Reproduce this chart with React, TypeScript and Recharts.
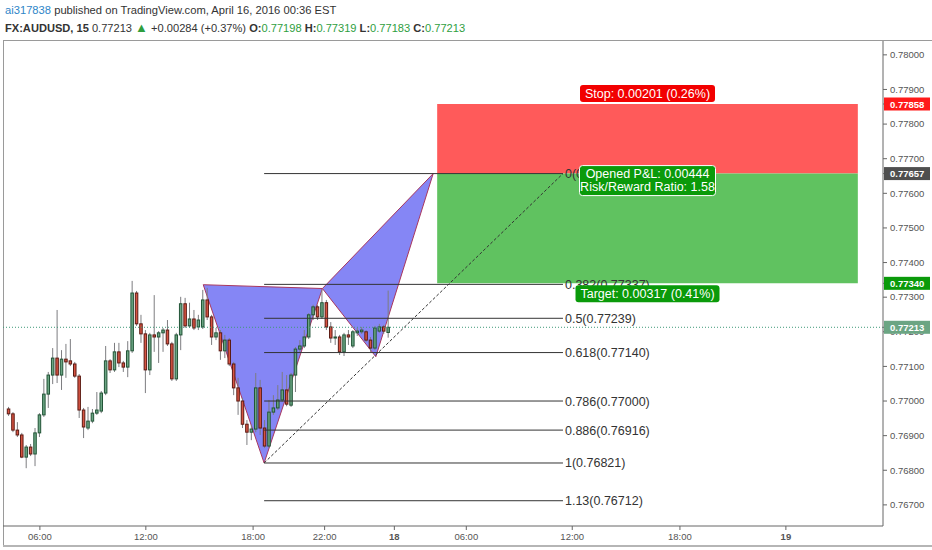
import {
  ComposedChart, Bar, XAxis, YAxis, ReferenceLine, ReferenceArea, ReferenceDot,
} from 'recharts'

// 15 min AUDUSD candles (bar index 0..86)
const opens = [
  0.76977, 0.76963, 0.76916, 0.76902, 0.76838, 0.76867, 0.76847, 0.76908, 0.76960, 0.77020,
  0.77075, 0.77124, 0.77075, 0.77121, 0.77116, 0.77107, 0.77072, 0.76974, 0.76922, 0.76942,
  0.76965, 0.76971, 0.77023, 0.77116, 0.77090, 0.77142, 0.77110, 0.77098, 0.77145, 0.77312,
  0.77223, 0.77194, 0.77090, 0.77191, 0.77185, 0.77197, 0.77205, 0.77165, 0.77064, 0.77191,
  0.77281, 0.77217, 0.77237, 0.77214, 0.77214, 0.77292, 0.77243, 0.77185, 0.77197, 0.77145,
  0.77176, 0.77107, 0.77038, 0.77000, 0.76933, 0.76910, 0.76919, 0.77038, 0.76922, 0.76870,
  0.76968, 0.76980, 0.77003, 0.77032, 0.76988, 0.77075, 0.77150, 0.77159, 0.77185, 0.77249,
  0.77272, 0.77243, 0.77284, 0.77214, 0.77182, 0.77185, 0.77142, 0.77191, 0.77159, 0.77197,
  0.77200, 0.77200, 0.77176, 0.77153, 0.77202, 0.77214, 0.77198,
]
const highs = [
  0.76983, 0.76968, 0.76939, 0.76908, 0.76873, 0.76876, 0.76922, 0.76965, 0.77064, 0.77084,
  0.77153, 0.77263, 0.77147, 0.77165, 0.77179, 0.77113, 0.77078, 0.76980, 0.76983, 0.76977,
  0.77026, 0.77029, 0.77159, 0.77121, 0.77168, 0.77168, 0.77116, 0.77173, 0.77347, 0.77318,
  0.77249, 0.77205, 0.77197, 0.77306, 0.77202, 0.77211, 0.77234, 0.77171, 0.77197, 0.77301,
  0.77298, 0.77284, 0.77263, 0.77249, 0.77321, 0.77327, 0.77249, 0.77211, 0.77205, 0.77191,
  0.77182, 0.77113, 0.77067, 0.77009, 0.76945, 0.76931, 0.77081, 0.77061, 0.76945, 0.77003,
  0.77017, 0.77046, 0.77084, 0.77075, 0.77081, 0.77156, 0.77176, 0.77205, 0.77254, 0.77278,
  0.77278, 0.77321, 0.77292, 0.77228, 0.77205, 0.77191, 0.77197, 0.77205, 0.77205, 0.77211,
  0.77214, 0.77205, 0.77185, 0.77217, 0.77223, 0.77220, 0.77319,
]
const lows = [
  0.76957, 0.76910, 0.76896, 0.76835, 0.76806, 0.76841, 0.76812, 0.76896, 0.76954, 0.76980,
  0.77049, 0.77052, 0.77032, 0.77067, 0.77101, 0.77067, 0.76951, 0.76893, 0.76916, 0.76936,
  0.76960, 0.76965, 0.77017, 0.77081, 0.77084, 0.77098, 0.77084, 0.77069, 0.77139, 0.77217,
  0.77168, 0.77023, 0.77075, 0.77142, 0.77110, 0.77142, 0.77159, 0.77058, 0.77058, 0.77147,
  0.77211, 0.77211, 0.77205, 0.77205, 0.77208, 0.77234, 0.77162, 0.77176, 0.77119, 0.77124,
  0.77101, 0.77017, 0.76960, 0.76922, 0.76873, 0.76887, 0.76910, 0.76902, 0.76864, 0.76864,
  0.76960, 0.76974, 0.76997, 0.76985, 0.76983, 0.77026, 0.77142, 0.77153, 0.77179, 0.77234,
  0.77234, 0.77237, 0.77205, 0.77168, 0.77162, 0.77133, 0.77130, 0.77162, 0.77153, 0.77188,
  0.77194, 0.77171, 0.77142, 0.77147, 0.77197, 0.77194, 0.77183,
]
const closes = [
  0.76963, 0.76916, 0.76902, 0.76838, 0.76867, 0.76847, 0.76908, 0.76960, 0.77020, 0.77075,
  0.77124, 0.77075, 0.77121, 0.77113, 0.77107, 0.77072, 0.76974, 0.76925, 0.76942, 0.76965,
  0.76974, 0.77023, 0.77116, 0.77090, 0.77142, 0.77110, 0.77098, 0.77145, 0.77312, 0.77223,
  0.77194, 0.77090, 0.77191, 0.77185, 0.77197, 0.77205, 0.77165, 0.77064, 0.77191, 0.77281,
  0.77217, 0.77237, 0.77211, 0.77234, 0.77292, 0.77243, 0.77185, 0.77197, 0.77145, 0.77176,
  0.77107, 0.77038, 0.77000, 0.76933, 0.76910, 0.76919, 0.77038, 0.76922, 0.76870, 0.76968,
  0.76980, 0.77003, 0.77032, 0.76991, 0.77075, 0.77150, 0.77159, 0.77185, 0.77249, 0.77272,
  0.77243, 0.77284, 0.77214, 0.77182, 0.77185, 0.77142, 0.77191, 0.77185, 0.77200, 0.77202,
  0.77205, 0.77176, 0.77153, 0.77211, 0.77214, 0.77202, 0.77213,
]

// time axis (bar index -> label)
const timeTicks = [7, 31, 55.3, 71.5, 87.3, 103.6, 127.6, 152, 176]
const timeLabels = ['06:00', '12:00', '18:00', '22:00', '18', '06:00', '12:00', '18:00', '19']
const dayLabels = ['18', '19']
const xDomain = [-1.36, 198]

const priceTicks = [0.767, 0.768, 0.769, 0.77, 0.771, 0.772, 0.773, 0.774, 0.775, 0.776, 0.777, 0.778, 0.779, 0.78]
const yDomain = [0.76639, 0.7804]

// harmonic pattern points (bar index, price)
const ptX = { i: 44, p: 0.77336 }
const ptA = { i: 57.8, p: 0.76821 }
const ptB = { i: 71, p: 0.77325 }
const ptC = { i: 83.1, p: 0.77128 }
const ptD = { i: 96.1, p: 0.77657 }

// fib retracement
const fibRatios = ['0', '0.382', '0.5', '0.618', '0.786', '0.886', '1', '1.13']
const fibPrices = [0.77657, 0.77337, 0.77239, 0.7714, 0.77, 0.76916, 0.76821, 0.76712]
const fibStart = 57.8
const fibEnd = 125.5

// long position tool
const posStart = 97
const posEnd = 192.3
const entry = 0.77657
const stop = 0.77858
const target = 0.7734
const lastPrice = 0.77213

const priceTags = [
  { price: 0.77858, color: '#ff1a1a' },
  { price: 0.77657, color: '#4f4f4f' },
  { price: 0.7734, color: '#0a9a0a' },
  { price: 0.77213, color: '#6ba583' },
]

const candles = opens.map((o, i) => ({
  i, o, h: highs[i], l: lows[i], c: closes[i], range: [lows[i], highs[i]],
}))

// tag prices last, so their boxes are painted over the plain tick labels
const yTicks = [...priceTicks, ...priceTags.map((t) => t.price)]

const font = '"Liberation Sans", Arial, sans-serif'

function Candle(props: any) {
  const { x, y, width, height, payload } = props
  const { o, h, l, c } = payload
  const up = c >= o
  const span = h - l || 1e-9
  const yOf = (v: number) => y + ((h - v) / span) * height
  const cx = x + width / 2
  const top = yOf(Math.max(o, c))
  const bot = yOf(Math.min(o, c))
  return (
    <g>
      <line x1={cx} x2={cx} y1={y} y2={y + height} stroke="#7d7d80" strokeWidth={1} />
      <rect
        x={x + 0.5} y={top} width={width - 1} height={Math.max(bot - top, 1)}
        fill={up ? '#6ba583' : '#d75442'} stroke={up ? '#225437' : '#5b1a13'} strokeWidth={1}
      />
    </g>
  )
}

function triangle(key: string, pts: { i: number; p: number }[]) {
  const x1 = Math.min(...pts.map((q) => q.i))
  const x2 = Math.max(...pts.map((q) => q.i))
  const y1 = Math.min(...pts.map((q) => q.p))
  const y2 = Math.max(...pts.map((q) => q.p))
  return (
    <ReferenceArea
      key={key} x1={x1} x2={x2} y1={y1} y2={y2} ifOverflow="visible"
      shape={(r: any) => {
        const s = pts
          .map((q) => `${r.x + ((q.i - x1) / (x2 - x1)) * r.width},${r.y + ((y2 - q.p) / (y2 - y1)) * r.height}`)
          .join(' ')
        return <polygon points={s} fill="#7b7cf4" fillOpacity={0.92} stroke="#a8375f" strokeWidth={1} />
      }}
    />
  )
}

function TimeTick(props: any) {
  const { x, y, payload } = props
  const k = timeTicks.indexOf(payload.value)
  const label = timeLabels[k]
  return (
    <text x={x} y={y + 8} textAnchor="middle" fontSize={9.5} fill="#555"
      fontFamily={font} fontWeight={dayLabels.includes(label) ? 'bold' : 'normal'}>
      {label}
    </text>
  )
}

function PriceTick(props: any) {
  const { x, y, payload } = props
  const tag = priceTags.find((t) => t.price === payload.value)
  if (tag) {
    return (
      <g>
        <rect x={x - 5} y={y - 6.5} width={46} height={13} fill={tag.color} />
        <text x={x + 1} y={y + 3.5} fontSize={9.5} fontWeight="bold" fill="#fff" fontFamily={font}>
          {tag.price.toFixed(5)}
        </text>
      </g>
    )
  }
  return (
    <text x={x + 1} y={y + 3.3} fontSize={9.5} fill="#555" fontFamily={font}>
      {payload.value.toFixed(5)}
    </text>
  )
}

function boxLabel(lines: string[], fill: string, where: 'above' | 'below' | 'mid') {
  return (p: any) => {
    const w = where === 'mid' ? 136 : lines[0].length > 21 ? 144 : 135
    const h = lines.length * 13 + 4
    const top = where === 'above' ? p.cy - h - 2 : where === 'below' ? p.cy + 2 : p.cy - 8
    return (
      <g>
        <rect x={p.cx - w / 2} y={top} width={w} height={h} rx={3} fill={fill}
          stroke={where === 'mid' ? '#ffffff' : 'none'} strokeWidth={1} />
        {lines.map((t, k) => (
          <text key={k} x={p.cx} y={top + 12.5 + k * 12.5} textAnchor="middle"
            fontSize={12.5} fill="#fff" fontFamily={font}>{t}</text>
        ))}
      </g>
    )
  }
}

function fibLabel(text: string) {
  return (p: any) => (
    <text x={p.cx + 2} y={p.cy + 4.5} fontSize={12.5} fill="#333" fontFamily={font}>{text}</text>
  )
}

export default function App() {
  return (
    <div style={{ position: 'absolute', left: 0, top: 0, width: 932, height: 550, background: '#fff', overflow: 'hidden' }}>
      <div style={{ position: 'absolute', left: 5, top: 4, fontFamily: font, fontSize: 11.2, color: '#333', whiteSpace: 'nowrap' }}>
        <span style={{ color: '#2f86c8' }}>ai317838</span> published on TradingView.com, April 16, 2016 00:36 EST
      </div>
      <div style={{ position: 'absolute', left: 5, top: 22, fontFamily: font, fontSize: 11.1, color: '#333', whiteSpace: 'nowrap' }}>
        <b>FX:AUDUSD, 15</b> 0.77213 <span style={{ color: '#2e9e3e', fontSize: 13, lineHeight: '12px' }}>▲</span> +0.00284 (+0.37%){' '}
        <b>O:</b><span style={{ color: '#2e9e3e' }}>0.77198</span>{' '}
        <b>H:</b><span style={{ color: '#2e9e3e' }}>0.77319</span>{' '}
        <b>L:</b><span style={{ color: '#2e9e3e' }}>0.77183</span>{' '}
        <b>C:</b><span style={{ color: '#2e9e3e' }}>0.77213</span>
      </div>
      <div style={{ position: 'absolute', left: 3, top: 40, width: 929, height: 1, background: '#9a9a9a' }} />
      <div style={{ position: 'absolute', left: 3, top: 40, width: 1, height: 506, background: '#9a9a9a' }} />
      <div style={{ position: 'absolute', left: 3, top: 545, width: 929, height: 2, background: '#b5b5b5' }} />
      <div style={{ position: 'absolute', left: 0, top: 0 }}>
        <ComposedChart width={932} height={550} data={candles} margin={{ top: 41, right: 0, bottom: 5, left: 3 }}>
          <XAxis
            type="number" dataKey="i" domain={xDomain} ticks={timeTicks} allowDataOverflow
            interval={0} height={19} tickSize={4} stroke="#666" tick={<TimeTick />}
          />
          <YAxis
            orientation="right" domain={yDomain} ticks={yTicks} allowDataOverflow width={49}
            interval={0} tickSize={4} stroke="#666" tick={<PriceTick />}
          />
          {triangle('xab', [ptX, ptA, ptB])}
          {triangle('bcd', [ptB, ptC, ptD])}
          <Bar dataKey="range" barSize={3.5} shape={<Candle />} isAnimationActive={false} />
          <ReferenceLine y={lastPrice} stroke="#3f9a78" strokeDasharray="1 2" />
          {fibPrices.map((p, k) => (
            <ReferenceLine
              key={fibRatios[k]}
              segment={[{ x: fibStart, y: p }, { x: fibEnd, y: p }]}
              stroke="#333" strokeWidth={1}
            />
          ))}
          <ReferenceLine
            segment={[{ x: ptA.i, y: ptA.p }, { x: fibEnd, y: fibPrices[0] }]}
            stroke="#333" strokeDasharray="3 2"
          />
          <ReferenceArea x1={posStart} x2={posEnd} y1={entry} y2={stop} fill="#ff5a5a" fillOpacity={1} />
          <ReferenceArea x1={posStart} x2={posEnd} y1={target} y2={entry} fill="#60c260" fillOpacity={1} />
          {fibPrices.map((p, k) => (
            <ReferenceDot key={`fl${k}`} x={fibEnd} y={p} ifOverflow="visible"
              shape={fibLabel(`${fibRatios[k]}(${p.toFixed(5)})`)} />
          ))}
          <ReferenceDot x={(posStart + posEnd) / 2} y={stop} ifOverflow="visible"
            shape={boxLabel(['Stop: 0.00201 (0.26%)'], '#f20000', 'above')} />
          <ReferenceDot x={(posStart + posEnd) / 2} y={entry} ifOverflow="visible"
            shape={boxLabel(['Opened P&L: 0.00444', 'Risk/Reward Ratio: 1.58'], '#0a9a0a', 'mid')} />
          <ReferenceDot x={(posStart + posEnd) / 2} y={target} ifOverflow="visible"
            shape={boxLabel(['Target: 0.00317 (0.41%)'], '#0a9a0a', 'below')} />
        </ComposedChart>
      </div>
    </div>
  )
}
